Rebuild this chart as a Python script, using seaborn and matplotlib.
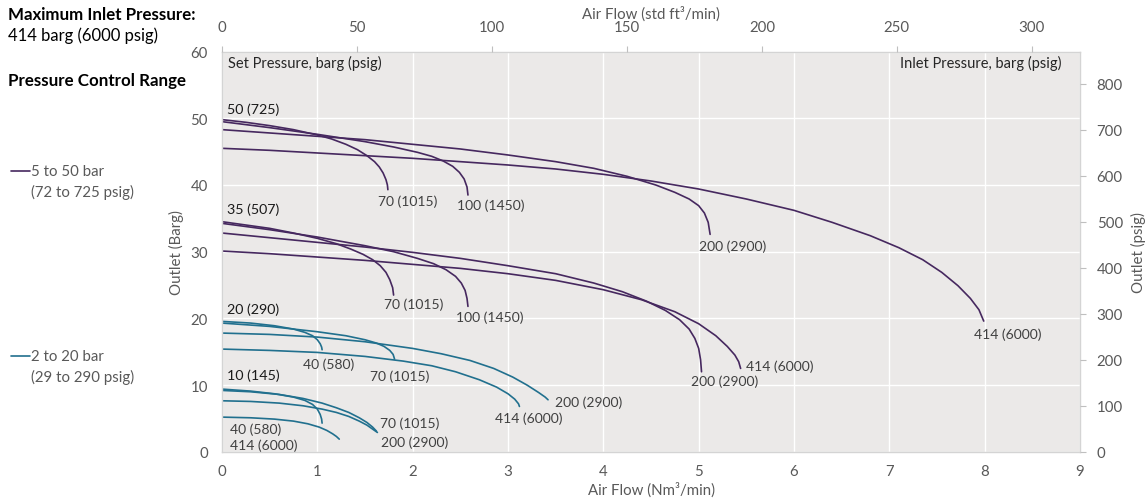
import matplotlib
matplotlib.use("Agg")
import numpy as np
import pandas as pd
import seaborn as sns
import matplotlib.pyplot as plt
from matplotlib.lines import Line2D

# ---------------- data ----------------
# Set pressures (barg / psig)
set_barg = [50, 35, 20, 10]
set_psig = [725, 507, 290, 145]

# Set pressure 50 barg: flow (Nm3/min) vs outlet (barg) for each inlet pressure
flow_50_70 = [0, 0.25, 0.5, 0.75, 1.0, 1.15, 1.3, 1.42, 1.52, 1.6, 1.65, 1.69, 1.72, 1.735, 1.74]
out_50_70 = [49.8, 49.4, 48.9, 48.3, 47.5, 46.9, 46.1, 45.3, 44.4, 43.5, 42.7, 41.8, 40.8, 40.0, 39.3]
flow_50_100 = [0, 0.5, 1.0, 1.5, 1.8, 2.05, 2.2, 2.32, 2.42, 2.49, 2.54, 2.57, 2.58]
out_50_100 = [49.5, 48.6, 47.6, 46.5, 45.7, 44.9, 44.3, 43.6, 42.8, 41.9, 40.9, 39.7, 38.5]
flow_50_200 = [0, 0.5, 1, 1.5, 2, 2.5, 3, 3.5, 3.9, 4.25, 4.55, 4.75, 4.9, 5.0, 5.06, 5.1, 5.12]
out_50_200 = [48.3, 47.8, 47.3, 46.8, 46.1, 45.4, 44.5, 43.5, 42.5, 41.3, 40.0, 38.9, 37.9, 36.9, 35.8, 34.4, 32.6]
flow_50_414 = [0, 0.5, 1, 1.5, 2, 2.5, 3, 3.5, 4, 4.5, 5, 5.5, 6, 6.4, 6.8, 7.1, 7.35,
               7.55, 7.72, 7.85, 7.94, 7.99]
out_50_414 = [45.5, 45.2, 44.8, 44.4, 44.0, 43.5, 43.0, 42.4, 41.6, 40.6, 39.4, 37.9, 36.2,
              34.4, 32.4, 30.6, 28.8, 26.9, 24.9, 23.0, 21.3, 19.6]

# Set pressure 35 barg
flow_35_70 = [0, 0.25, 0.5, 0.75, 1.0, 1.2, 1.35, 1.48, 1.58, 1.66, 1.72, 1.76, 1.79, 1.80]
out_35_70 = [34.5, 34.0, 33.5, 32.8, 32.0, 31.2, 30.4, 29.6, 28.8, 27.9, 26.9, 25.8, 24.6, 23.5]
flow_35_100 = [0, 0.5, 1, 1.5, 1.8, 2.05, 2.22, 2.35, 2.45, 2.51, 2.55, 2.57, 2.58]
out_35_100 = [34.25, 33.3, 32.2, 30.9, 30.0, 29.0, 28.2, 27.3, 26.3, 25.3, 24.2, 23.0, 21.8]
flow_35_200 = [0, 0.5, 1, 1.5, 2, 2.5, 3, 3.5, 3.9, 4.2, 4.45, 4.65, 4.8, 4.9, 4.96,
               5.0, 5.02, 5.03]
out_35_200 = [32.8, 32.1, 31.4, 30.7, 29.9, 29.0, 27.9, 26.7, 25.3, 24.0, 22.6, 21.2, 19.8,
              18.4, 17.0, 15.5, 13.8, 12.0]
flow_35_414 = [0, 0.5, 1, 1.5, 2, 2.5, 3, 3.5, 4, 4.4, 4.75, 5.0, 5.18, 5.3, 5.38, 5.42, 5.44]
out_35_414 = [30.1, 29.7, 29.2, 28.7, 28.1, 27.5, 26.7, 25.7, 24.3, 22.8, 21.0, 19.2, 17.4,
              15.8, 14.5, 13.5, 12.5]

# Set pressure 20 barg
flow_20_40 = [0, 0.3, 0.55, 0.75, 0.87, 0.95, 1.0, 1.03, 1.045, 1.05]
out_20_40 = [19.55, 19.3, 18.9, 18.4, 17.9, 17.4, 16.8, 16.2, 15.7, 15.3]
flow_20_70 = [0, 0.5, 1.0, 1.3, 1.5, 1.62, 1.7, 1.76, 1.795, 1.81]
out_20_70 = [19.3, 18.8, 18.0, 17.4, 16.8, 16.3, 15.8, 15.2, 14.6, 13.9]
flow_20_200 = [0, 0.5, 1, 1.5, 2, 2.3, 2.6, 2.85, 3.05, 3.2, 3.32, 3.39, 3.42]
out_20_200 = [17.8, 17.6, 17.2, 16.5, 15.5, 14.7, 13.7, 12.5, 11.2, 10.0, 8.9, 8.2, 7.8]
flow_20_414 = [0, 0.5, 1, 1.5, 1.9, 2.2, 2.45, 2.7, 2.88, 3.0, 3.07, 3.11, 3.12]
out_20_414 = [15.4, 15.2, 14.9, 14.3, 13.6, 12.9, 12.0, 10.8, 9.7, 8.7, 7.9, 7.2, 6.8]

# Set pressure 10 barg
flow_10_40 = [0, 0.3, 0.55, 0.75, 0.87, 0.95, 1.0, 1.03, 1.045, 1.05]
out_10_40 = [9.4, 9.1, 8.7, 8.2, 7.7, 7.1, 6.4, 5.6, 4.9, 4.3]
flow_10_70 = [0, 0.3, 0.6, 0.85, 1.05, 1.2, 1.33, 1.44, 1.52, 1.58, 1.62]
out_10_70 = [9.2, 9.0, 8.6, 8.0, 7.3, 6.6, 5.9, 5.1, 4.4, 3.7, 3.1]
flow_10_200 = [0, 0.3, 0.6, 0.85, 1.05, 1.2, 1.33, 1.44, 1.52, 1.58, 1.63]
out_10_200 = [7.65, 7.55, 7.3, 6.9, 6.4, 5.9, 5.3, 4.6, 4.0, 3.4, 2.9]
flow_10_414 = [0, 0.3, 0.55, 0.75, 0.9, 1.02, 1.1, 1.16, 1.2, 1.23]
out_10_414 = [5.2, 5.1, 4.9, 4.6, 4.2, 3.7, 3.2, 2.7, 2.3, 1.9]

# Inlet pressure labels (barg, psig)
inlet_labels = {40: "40 (580)", 70: "70 (1015)", 100: "100 (1450)",
                200: "200 (2900)", 414: "414 (6000)"}

curves = [
    (50, 70, flow_50_70, out_50_70), (50, 100, flow_50_100, out_50_100),
    (50, 200, flow_50_200, out_50_200), (50, 414, flow_50_414, out_50_414),
    (35, 70, flow_35_70, out_35_70), (35, 100, flow_35_100, out_35_100),
    (35, 200, flow_35_200, out_35_200), (35, 414, flow_35_414, out_35_414),
    (20, 40, flow_20_40, out_20_40), (20, 70, flow_20_70, out_20_70),
    (20, 200, flow_20_200, out_20_200), (20, 414, flow_20_414, out_20_414),
    (10, 40, flow_10_40, out_10_40), (10, 70, flow_10_70, out_10_70),
    (10, 200, flow_10_200, out_10_200), (10, 414, flow_10_414, out_10_414),
]

# end-label placement: (dx px, dy px) relative to the curve end
label_offsets = {
    (50, 70): (-10, -11), (50, 100): (-11, -10), (50, 200): (-11, -11), (50, 414): (-10, -13),
    (35, 70): (-10, -9), (35, 100): (-12, -10), (35, 200): (-11, -9), (35, 414): (5, 3),
    (20, 40): (-19, -14), (20, 70): (-25, -17), (20, 200): (7, -2), (20, 414): (-24, -11),
    (10, 40): (-92, -6), (10, 70): (4, 8), (10, 200): (4, -9), (10, 414): (-109, -6),
}

PURPLE = "#46285f"
TEAL = "#21708e"
GREY = "#595959"
PX = 0.72  # points per pixel at 100 dpi

rows = []
for sp, inlet, fl, out in curves:
    for f, o in zip(fl, out):
        rows.append({"flow": f, "outlet": o, "curve": f"{sp}-{inlet}",
                     "range": "high" if sp >= 35 else "low"})
df = pd.DataFrame(rows)

# ---------------- style ----------------
sns.set_theme(style="darkgrid", rc={
    "axes.facecolor": "#ebe9e8",
    "grid.color": "white",
    "grid.linewidth": 1.0,
    "axes.edgecolor": "#d4d4d4",
    "lines.solid_joinstyle": "round",
    "lines.solid_capstyle": "round",
})
plt.rcParams["font.family"] = ["Lato", "DejaVu Sans"]

W, H = 1145, 502
fig = plt.figure(figsize=(W / 100, H / 100), dpi=100)
ax_left, ax_bottom, ax_right, ax_top = 222, 452.8, 1080, 52.6
ax = fig.add_axes([ax_left / W, 1 - ax_bottom / H,
                   (ax_right - ax_left) / W, (ax_bottom - ax_top) / H])

sns.lineplot(data=df, x="flow", y="outlet", units="curve", estimator=None,
             hue="range", palette={"high": PURPLE, "low": TEAL},
             sort=False, legend=False, linewidth=1.2, ax=ax)

TICK_FS = 10.8
ax.set_xlim(0, 9)
ax.set_ylim(0, 60)
ax.set_xticks(range(0, 10))
ax.set_yticks(range(0, 61, 10))
ax.tick_params(axis="both", length=0, labelsize=TICK_FS, labelcolor=GREY)
ax.tick_params(axis="y", pad=10)
ax.tick_params(axis="x", pad=9)
ax.set_xlabel("Air Flow (Nm³/min)", fontsize=TICK_FS, color=GREY, labelpad=2)
ax.set_ylabel("Outlet (Barg)", fontsize=TICK_FS, color=GREY, labelpad=5)
for s in ax.spines.values():
    s.set_visible(True)
    s.set_color("#d4d4d4")
    s.set_linewidth(1.0)

# secondary axes: psig on the right, std ft3/min on top
ax_r = ax.twinx()
ax_r.set_ylim(0, 60 * 14.5038)
ax_r.set_yticks(range(0, 801, 100))
ax_r.grid(False)
ax_r.tick_params(axis="y", length=4, width=0.8, color="#bfbfbf", pad=8,
                 labelsize=TICK_FS, labelcolor=GREY)
ax_r.set_ylabel("Outlet (psig)", fontsize=TICK_FS, color=GREY, labelpad=6)

ax_t = ax.twiny()
ax_t.set_xlim(0, 9 * 35.3147)
ax_t.set_xticks(range(0, 301, 50))
ax_t.grid(False)
ax_t.tick_params(axis="x", length=4, width=0.8, color="#bfbfbf", pad=9,
                 labelsize=TICK_FS, labelcolor=GREY)
ax_t.set_xlabel("Air Flow (std ft³/min)", fontsize=TICK_FS, color=GREY, labelpad=1)
for a in (ax_r, ax_t):
    for s in a.spines.values():
        s.set_visible(False)

# inlet pressure labels at curve ends
for sp, inlet, fl, out in curves:
    dx, dy = label_offsets[(sp, inlet)]
    ax.annotate(inlet_labels[inlet], (fl[-1], out[-1]), xytext=(dx * PX, dy * PX),
                textcoords="offset points", ha="left", va="center",
                fontsize=10, color="#404040")

# set pressure labels
for sp, ps in zip(set_barg, set_psig):
    ax.annotate(f"{sp} ({ps})", (0, sp), xytext=(5 * PX, 10 * PX),
                textcoords="offset points", ha="left", va="center",
                fontsize=10.3, color="#1a1a1a")

ax.text(0.007, 0.972, "Set Pressure, barg (psig)", transform=ax.transAxes,
        ha="left", va="center", fontsize=10.5, color="#262626")
ax.text(0.979, 0.972, "Inlet Pressure, barg (psig)", transform=ax.transAxes,
        ha="right", va="center", fontsize=10.5, color="#262626")

# left-hand notes and range key
def ftext(x, y, s, **kw):
    fig.text(x / W, 1 - y / H, s, va="center", ha="left", **kw)

ftext(8, 15, "Maximum Inlet Pressure:", fontsize=12.2, fontweight="bold", color="black")
ftext(8, 36, "414 barg (6000 psig)", fontsize=12, color="black")
ftext(8, 81, "Pressure Control Range", fontsize=12.2, fontweight="bold", color="black")

for y, color, l1, l2 in [(172, PURPLE, "5 to 50 bar", "(72 to 725 psig)"),
                         (357, TEAL, "2 to 20 bar", "(29 to 290 psig)")]:
    fig.add_artist(Line2D([11 / W, 30 / W], [1 - y / H, 1 - y / H],
                          color=color, linewidth=1.2, transform=fig.transFigure))
    ftext(31, y, l1, fontsize=10.8, color=GREY)
    ftext(31, y + 20, l2, fontsize=10.8, color=GREY)

fig.savefig("out.png", dpi=100)
